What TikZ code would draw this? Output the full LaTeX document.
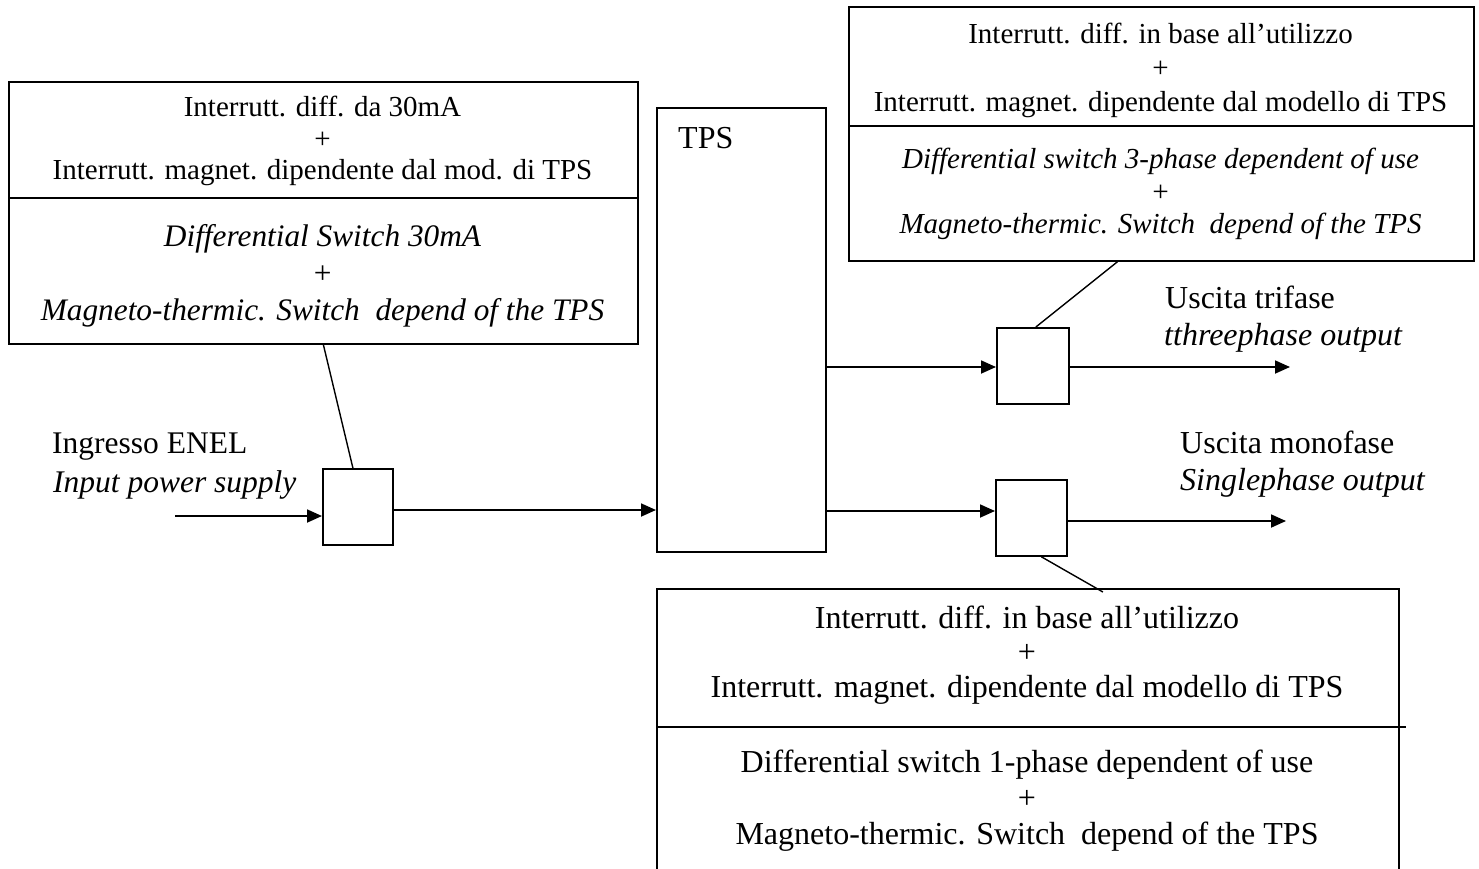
\documentclass[tikz,border=0pt]{standalone}
\usepackage{fontspec}
\setmainfont{Liberation Serif}
\usetikzlibrary{arrows.meta}
\begin{document}
\begin{tikzpicture}[x=1pt,y=-1pt,
  box/.style={draw,line width=1.8pt,inner sep=0pt,anchor=north west},
  txt/.style={align=center,inner sep=0pt},
  lbl/.style={font=\fontsize{32}{36}\selectfont,inner sep=0pt,anchor=base west},
  conn/.style={line width=1.8pt,-{Triangle[length=15pt,width=13pt]}},
  lead/.style={line width=1.4pt}]
\useasboundingbox (0,0) rectangle (1479,868);
\fill[white] (0,0) rectangle (1479,868);
% boxes
\node[box,minimum width=629pt,minimum height=262pt] (lb) at (8,81) {};
\node[box,minimum width=625pt,minimum height=254pt] (trb) at (848,6) {};
\node[box,minimum width=742pt,minimum height=320pt] (bb) at (656,588) {};
\node[box,minimum width=169pt,minimum height=444pt] (tps) at (656,107) {};
\node[box,minimum width=70pt,minimum height=76pt] (b1) at (322,468) {};
\node[box,minimum width=72pt,minimum height=76pt] (b3) at (996,327) {};
\node[box,minimum width=71pt,minimum height=76pt] (b1ph) at (995,479) {};
% dividers
\draw[line width=1.8pt] (lb.west |- 0,198) -- (lb.east |- 0,198);
\draw[line width=1.8pt] (trb.west |- 0,126) -- (trb.east |- 0,126);
\draw[line width=1.8pt] (bb.west |- 0,727) -- ([xshift=6pt]bb.east |- 0,727);
% box texts
\node[txt,font=\fontsize{29}{31.7}\selectfont] (lbA) at (322.5,141) {Interrutt. diff. da 30mA\\+\\Interrutt. magnet. dipendente dal mod. di TPS};
\node[txt,font=\fontsize{31.3}{37}\selectfont\itshape] (lbB) at (322.5,276) {Differential Switch 30mA\\+\\Magneto-thermic. Switch~ depend of the TPS};
\node[txt,font=\fontsize{29}{34}\selectfont] (trA) at (1160.5,70) {Interrutt. diff. in base all’utilizzo\\+\\Interrutt. magnet. dipendente dal modello di TPS};
\node[txt,font=\fontsize{29}{32.5}\selectfont\itshape] (trB) at (1160.5,194) {Differential switch 3-phase dependent of use\\+\\Magneto-thermic. Switch~ depend of the TPS};
\node[txt,font=\fontsize{32}{34.5}\selectfont] (bbA) at (1027,655) {Interrutt. diff. in base all’utilizzo\\+\\Interrutt. magnet. dipendente dal modello di TPS};
\node[txt,font=\fontsize{32}{36}\selectfont] (bbB) at (1027,801) {Differential switch 1-phase dependent of use\\+\\Magneto-thermic. Switch~ depend of the TPS};
\node[lbl] (tpsT) at (678,148) {TPS};
% labels
\node[lbl,font=\fontsize{31.5}{36}\selectfont] (inA) at (52,453) {Ingresso ENEL};
\node[lbl,font=\fontsize{31.5}{36}\selectfont\itshape] (inB) at (53,492) {Input power supply};
\node[lbl] (o3A) at (1165,308) {Uscita trifase};
\node[lbl,font=\fontsize{32}{36}\selectfont\itshape] (o3B) at (1164,345) {tthreephase output};
\node[lbl] (o1A) at (1180,453) {Uscita monofase};
\node[lbl,font=\fontsize{32}{36}\selectfont\itshape] (o1B) at (1180,490) {Singlephase output};
% connectors
\coordinate (inS) at (175,516);
\coordinate (o3) at (1290,367);
\coordinate (o1) at (1286,521);
\draw[conn] (inS) -- (inS -| b1.west);
\draw[conn] (b1.east |- 0,510) -- (tps.west |- 0,510);
\draw[conn] (tps.east |- 0,367) -- (b3.west |- 0,367);
\draw[conn] (b3.east |- o3) -- (o3);
\draw[conn] (tps.east |- 0,511) -- (b1ph.west |- 0,511);
\draw[conn] (b1ph.east |- o1) -- (o1);
% leads
\draw[lead] (lb.south) -- ([xshift=-5pt]b1.north);
\draw[lead] ([xshift=3pt]b3.north) -- ([xshift=-44pt]trb.south);
\draw[lead] ([xshift=10pt]b1ph.south) -- ([xshift=75pt,yshift=-4pt]bb.north);
\end{tikzpicture}
\end{document}
